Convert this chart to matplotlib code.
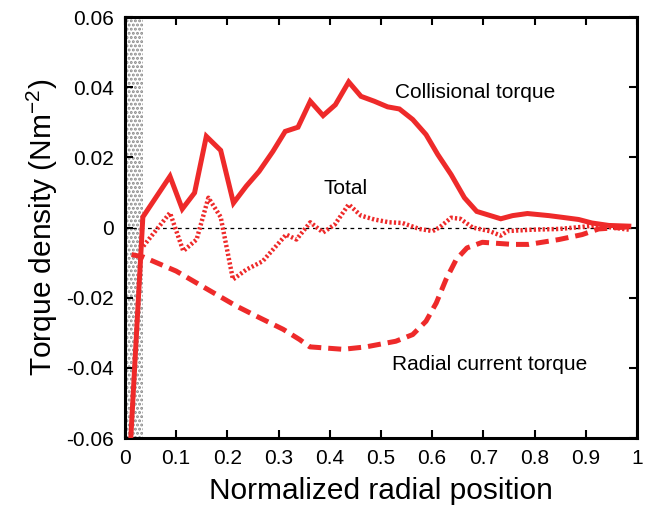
"""
plot.py - torque density profiles across the normalized radius.
"""

import matplotlib
matplotlib.use("Agg")
import matplotlib.pyplot as plt

plt.rcParams["font.family"] = ["Liberation Sans", "DejaVu Sans"]
plt.rcParams["hatch.linewidth"] = 1.4

RED = "#ee2a2a"

# collisional torque (solid)
coll_x = [0.010, 0.035, 0.088, 0.112, 0.136, 0.159, 0.187, 0.212, 0.237, 0.262,
          0.289, 0.313, 0.338, 0.362, 0.387, 0.411, 0.437, 0.461, 0.487, 0.513,
          0.536, 0.562, 0.588, 0.611, 0.637, 0.663, 0.687, 0.734, 0.757, 0.786,
          0.828, 0.860, 0.886, 0.912, 0.945, 0.984]
coll_y = [-0.064, 0.003, 0.0146, 0.0053, 0.0099, 0.026, 0.022, 0.007, 0.0118, 0.016,
          0.0217, 0.0274, 0.0286, 0.0360, 0.0319, 0.035, 0.0415, 0.0374, 0.036, 0.0344,
          0.0338, 0.0308, 0.0265, 0.0208, 0.0151, 0.0085, 0.0046, 0.0025, 0.0034, 0.004,
          0.0034, 0.0028, 0.0023, 0.0013, 0.0006, 0.0004]

# total torque (dotted)
total_x = [0.036, 0.088, 0.114, 0.140, 0.163, 0.187, 0.211, 0.237, 0.269, 0.315,
           0.335, 0.362, 0.387, 0.410, 0.437, 0.461, 0.487, 0.516, 0.542, 0.575,
           0.601, 0.614, 0.637, 0.655, 0.679, 0.712, 0.734, 0.747, 0.796, 0.848,
           0.893, 0.919, 0.984]
total_y = [-0.0053, 0.0042, -0.0067, -0.0034, 0.0085, 0.003, -0.0148, -0.012, -0.0096, -0.002,
           -0.0034, 0.0015, -0.0014, 0.0009, 0.0066, 0.0034, 0.0023, 0.0015, 0.0013, -0.0004,
           -0.001, 0.0, 0.0028, 0.0025, 0.0, -0.001, -0.0023, -0.001, -0.0006, -0.0004,
           0.0002, 0.0006, -0.0006]

# radial current torque (dashed)
rad_x = [0.013, 0.036, 0.100, 0.166, 0.218, 0.263, 0.309, 0.341, 0.361, 0.426,
         0.471, 0.529, 0.562, 0.588, 0.608, 0.627, 0.647, 0.668, 0.698, 0.757,
         0.789, 0.848, 0.893, 0.925, 0.984]
rad_y = [-0.0077, -0.0084, -0.0124, -0.018, -0.0224, -0.0257, -0.029, -0.0319, -0.034, -0.0347,
         -0.034, -0.0324, -0.0305, -0.0267, -0.0215, -0.0148, -0.0091, -0.0058, -0.0042, -0.0048,
         -0.0048, -0.0034, -0.002, -0.0004, 0.0002]

x_ticks = [0, 0.1, 0.2, 0.3, 0.4, 0.5, 0.6, 0.7, 0.8, 0.9, 1]
y_ticks = [-0.06, -0.04, -0.02, 0, 0.02, 0.04, 0.06]
shade_edge = 0.035

fig = plt.figure(figsize=(6.54, 5.16), dpi=100)
ax = fig.add_axes([0.191, 0.151, 0.783, 0.816])

ax.axvspan(0, shade_edge, facecolor="white", edgecolor="#8a8a8a", hatch="....",
           linewidth=0, zorder=1)
ax.axhline(0, color="black", lw=0.9, ls=(0, (3, 3)), zorder=2)

ax.plot(coll_x, coll_y, color=RED, lw=3.6, solid_joinstyle="miter", zorder=3)
ax.plot(total_x, total_y, color=RED, lw=3.2, ls=(0, (0.5, 0.5)), zorder=3)
ax.plot(rad_x, rad_y, color=RED, lw=3.6, ls=(0, (2.6, 1.4)), zorder=3)

ax.text(0.527, 0.037, "Collisional torque", fontsize=15)
ax.text(0.387, 0.0097, "Total", fontsize=15)
ax.text(0.521, -0.0405, "Radial current torque", fontsize=15)

ax.set_xlim(0, 1)
ax.set_ylim(-0.06, 0.06)
ax.set_xticks(x_ticks)
ax.set_xticklabels([f"{t:g}" for t in x_ticks])
ax.set_yticks(y_ticks)
ax.set_yticklabels([f"{t:g}" for t in y_ticks])
ax.tick_params(direction="in", length=6, width=1.5, labelsize=15, pad=8,
               top=True, right=True)

ax.set_xlabel("Normalized radial position", fontsize=21.5, labelpad=6)
ax.set_ylabel("Torque density (Nm$^{\\mathregular{-2}}$)", fontsize=21.5, labelpad=4)

for s in ax.spines.values():
    s.set_linewidth(2.2)

fig.savefig("out.png", dpi=100)
